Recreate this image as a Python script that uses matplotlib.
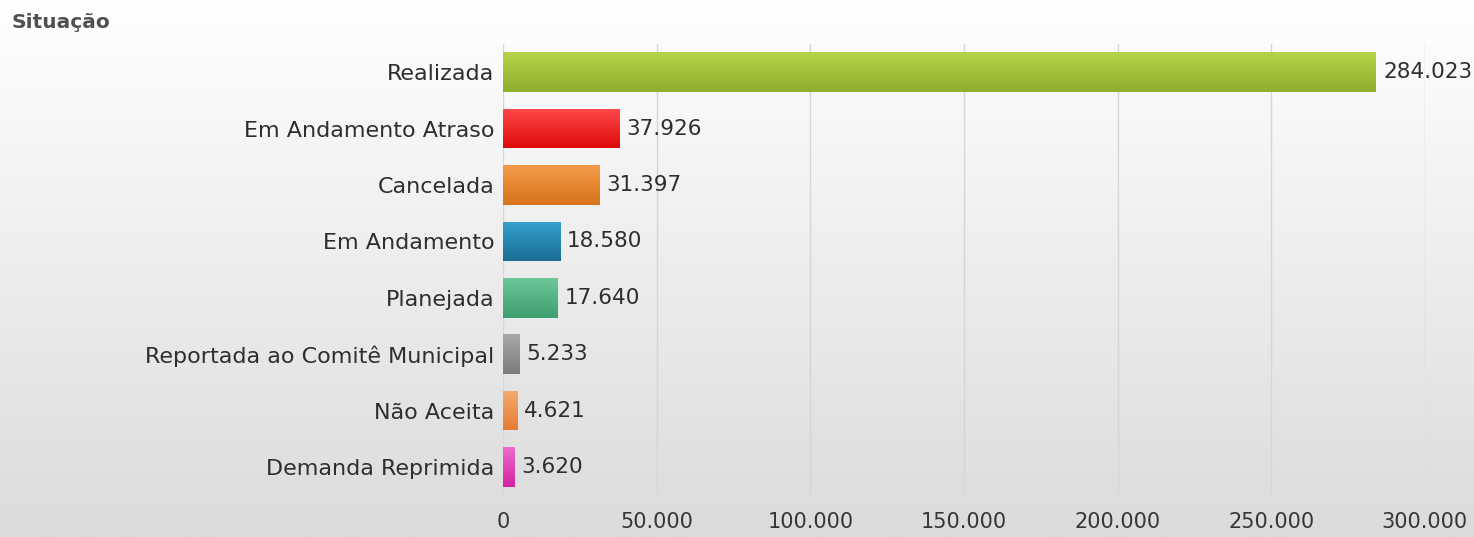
import numpy as np
import matplotlib
matplotlib.use("Agg")
import matplotlib.pyplot as plt
from matplotlib.colors import LinearSegmentedColormap
from matplotlib.ticker import FuncFormatter

plt.rcParams['font.family'] = ['DejaVu Sans']

categorias = ["Realizada", "Em Andamento Atraso", "Cancelada", "Em Andamento",
              "Planejada", "Reportada ao Comitê Municipal", "Não Aceita", "Demanda Reprimida"]
valores = [284023, 37926, 31397, 18580, 17640, 5233, 4621, 3620]
# (cor clara topo, cor escura base)
cores = [("#b4d44a", "#8fae2e"), ("#ff4a4a", "#dd0a0a"), ("#f39a48", "#d8741c"),
         ("#35a2cf", "#1a6d94"), ("#6cc899", "#3f9e6e"), ("#a8a8a8", "#7c7c7c"),
         ("#f4ab70", "#e67c34"), ("#ec6ccc", "#d2229f")]

def fmt_br(v, pos=None):
    return f"{int(v):,}".replace(",", ".")

fig = plt.figure(figsize=(14.74, 5.37), dpi=100)

# fundo em degradê
bg = fig.add_axes([0, 0, 1, 1], zorder=-10)
grad = np.linspace(1, 0, 256).reshape(-1, 1)
bg_cmap = LinearSegmentedColormap.from_list("bg", ["#dbdbdb", "#ffffff"])
bg.imshow(grad, aspect="auto", cmap=bg_cmap, extent=(0, 1, 0, 1), origin="upper")
bg.axis("off")

ax = fig.add_axes([0.3412, 0.078, 0.9667 - 0.3412, 0.84])
ax.patch.set_alpha(0)

y = np.arange(len(categorias))
h = 0.7
bars = ax.barh(y, valores, height=h, color=[c[1] for c in cores], zorder=3)

# degradê vertical dentro das barras
gv = np.linspace(0, 1, 64).reshape(-1, 1)
for b, (c1, c2), v, yi in zip(bars, cores, valores, y):
    cm = LinearSegmentedColormap.from_list("b", [c1, c2])
    im = ax.imshow(gv, aspect="auto", cmap=cm, extent=(0, v, yi + h / 2, yi - h / 2),
                   origin="upper", zorder=4)
    im.set_clip_path(b)
    ax.text(v + 2300, yi, fmt_br(v), va="center", ha="left", fontsize=15.5,
            color="#2e2e2e", zorder=5)
ax.set_xlim(0, 300000)
ax.set_ylim(len(categorias) - 0.5, -0.5)

ax.set_yticks(y)
ax.set_yticklabels(categorias, fontsize=16, color="#2e2e2e")
ax.set_xticks(np.arange(0, 300001, 50000))
ax.xaxis.set_major_formatter(FuncFormatter(fmt_br))
for lb in ax.get_xticklabels():
    lb.set_fontsize(15)
    lb.set_color("#363636")
ax.tick_params(length=0, pad=6)
ax.tick_params(axis="x", pad=12)
ax.grid(axis="x", color="#d6d6d6", lw=1, zorder=0)
for s in ax.spines.values():
    s.set_visible(False)

fig.text(12 / 1474, 1 - 22 / 537, "Situação", fontsize=14.5, fontweight="bold",
         color="#505050", va="center", ha="left")

fig.savefig("out.png", dpi=100)
